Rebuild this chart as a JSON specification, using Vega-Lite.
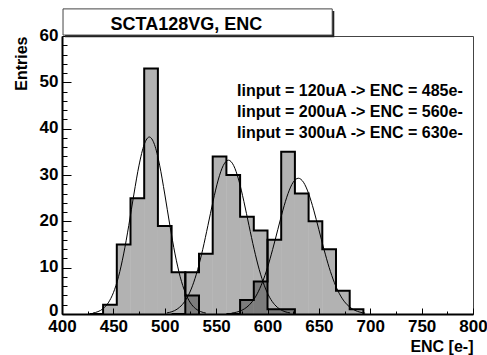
{
  "$schema": "https://vega.github.io/schema/vega-lite/v6.json",
  "width": 411,
  "height": 278,
  "autosize": "none",
  "padding": {"left": 62, "top": 36, "right": 14, "bottom": 41},
  "background": "white",
  "config": {
    "view": {"stroke": "#444", "strokeWidth": 1},
    "font": "Liberation Sans",
    "axis": {
      "labelFont": "Liberation Sans", "labelFontWeight": "bold", "labelFontSize": 17, "labelColor": "black", "labelFlush": false,
      "titleFont": "Liberation Sans", "titleFontWeight": "bold", "titleFontSize": 16, "titleColor": "black",
      "tickColor": "black", "domainColor": "black", "domainWidth": 2, "grid": false, "tickWidth": 1
    }
  },
  "datasets": {
    "hist": [
      {"s": "a", "lo": 426.667, "hi": 440, "n": 0},
      {"s": "a", "lo": 440, "hi": 453.333, "n": 2},
      {"s": "a", "lo": 453.333, "hi": 466.667, "n": 15},
      {"s": "a", "lo": 466.667, "hi": 480, "n": 25},
      {"s": "a", "lo": 480, "hi": 493.333, "n": 53},
      {"s": "a", "lo": 493.333, "hi": 506.667, "n": 19},
      {"s": "a", "lo": 506.667, "hi": 520, "n": 9},
      {"s": "a", "lo": 520, "hi": 533.333, "n": 4},
      {"s": "a", "lo": 533.333, "hi": 546.667, "n": 0},
      {"s": "b", "lo": 506.667, "hi": 520, "n": 0},
      {"s": "b", "lo": 520, "hi": 533.333, "n": 9},
      {"s": "b", "lo": 533.333, "hi": 546.667, "n": 13},
      {"s": "b", "lo": 546.667, "hi": 560, "n": 34},
      {"s": "b", "lo": 560, "hi": 573.333, "n": 30},
      {"s": "b", "lo": 573.333, "hi": 586.667, "n": 21},
      {"s": "b", "lo": 586.667, "hi": 600, "n": 18},
      {"s": "b", "lo": 600, "hi": 613.333, "n": 1},
      {"s": "b", "lo": 613.333, "hi": 626.667, "n": 1},
      {"s": "b", "lo": 626.667, "hi": 640, "n": 0},
      {"s": "c", "lo": 560, "hi": 573.333, "n": 0},
      {"s": "c", "lo": 573.333, "hi": 586.667, "n": 3},
      {"s": "c", "lo": 586.667, "hi": 600, "n": 7},
      {"s": "c", "lo": 600, "hi": 613.333, "n": 16},
      {"s": "c", "lo": 613.333, "hi": 626.667, "n": 35},
      {"s": "c", "lo": 626.667, "hi": 640, "n": 26},
      {"s": "c", "lo": 640, "hi": 653.333, "n": 20},
      {"s": "c", "lo": 653.333, "hi": 666.667, "n": 14},
      {"s": "c", "lo": 666.667, "hi": 680, "n": 5},
      {"s": "c", "lo": 680, "hi": 693.333, "n": 1},
      {"s": "c", "lo": 693.333, "hi": 706.667, "n": 0}
    ],
    "fit": [
      {"f": "a", "x": 430, "v": 0.2}, {"f": "a", "x": 435, "v": 0.51}, {"f": "a", "x": 440, "v": 1.15},
      {"f": "a", "x": 445, "v": 2.4}, {"f": "a", "x": 450, "v": 4.59}, {"f": "a", "x": 455, "v": 8.05},
      {"f": "a", "x": 460, "v": 12.96}, {"f": "a", "x": 465, "v": 19.12}, {"f": "a", "x": 470, "v": 25.89},
      {"f": "a", "x": 475, "v": 32.13}, {"f": "a", "x": 480, "v": 36.58}, {"f": "a", "x": 485, "v": 38.2},
      {"f": "a", "x": 490, "v": 36.58}, {"f": "a", "x": 495, "v": 32.13}, {"f": "a", "x": 500, "v": 25.89},
      {"f": "a", "x": 505, "v": 19.12}, {"f": "a", "x": 510, "v": 12.96}, {"f": "a", "x": 515, "v": 8.05},
      {"f": "a", "x": 520, "v": 4.59}, {"f": "a", "x": 525, "v": 2.4}, {"f": "a", "x": 530, "v": 1.15},
      {"f": "a", "x": 535, "v": 0.51}, {"f": "a", "x": 540, "v": 0.2},
      {"f": "b", "x": 502, "v": 0.23}, {"f": "b", "x": 507, "v": 0.5}, {"f": "b", "x": 512, "v": 1.04},
      {"f": "b", "x": 517, "v": 2.01}, {"f": "b", "x": 522, "v": 3.62}, {"f": "b", "x": 527, "v": 6.09},
      {"f": "b", "x": 532, "v": 9.55}, {"f": "b", "x": 537, "v": 13.97}, {"f": "b", "x": 542, "v": 19.08},
      {"f": "b", "x": 547, "v": 24.31}, {"f": "b", "x": 552, "v": 28.91}, {"f": "b", "x": 557, "v": 32.07},
      {"f": "b", "x": 562, "v": 33.2}, {"f": "b", "x": 567, "v": 32.07}, {"f": "b", "x": 572, "v": 28.91},
      {"f": "b", "x": 577, "v": 24.31}, {"f": "b", "x": 582, "v": 19.08}, {"f": "b", "x": 587, "v": 13.97},
      {"f": "b", "x": 592, "v": 9.55}, {"f": "b", "x": 597, "v": 6.09}, {"f": "b", "x": 602, "v": 3.62},
      {"f": "b", "x": 607, "v": 2.01}, {"f": "b", "x": 612, "v": 1.04}, {"f": "b", "x": 617, "v": 0.5},
      {"f": "b", "x": 622, "v": 0.23},
      {"f": "c", "x": 565, "v": 0.19}, {"f": "c", "x": 570, "v": 0.4}, {"f": "c", "x": 575, "v": 0.8},
      {"f": "c", "x": 580, "v": 1.5}, {"f": "c", "x": 585, "v": 2.63}, {"f": "c", "x": 590, "v": 4.37},
      {"f": "c", "x": 595, "v": 6.82}, {"f": "c", "x": 600, "v": 10.04}, {"f": "c", "x": 605, "v": 13.93},
      {"f": "c", "x": 610, "v": 18.2}, {"f": "c", "x": 615, "v": 22.42}, {"f": "c", "x": 620, "v": 26.01},
      {"f": "c", "x": 625, "v": 28.44}, {"f": "c", "x": 630, "v": 29.3}, {"f": "c", "x": 635, "v": 28.44},
      {"f": "c", "x": 640, "v": 26.01}, {"f": "c", "x": 645, "v": 22.42}, {"f": "c", "x": 650, "v": 18.2},
      {"f": "c", "x": 655, "v": 13.93}, {"f": "c", "x": 660, "v": 10.04}, {"f": "c", "x": 665, "v": 6.82},
      {"f": "c", "x": 670, "v": 4.37}, {"f": "c", "x": 675, "v": 2.63}, {"f": "c", "x": 680, "v": 1.5},
      {"f": "c", "x": 685, "v": 0.8}, {"f": "c", "x": 690, "v": 0.4}, {"f": "c", "x": 695, "v": 0.19}
    ]
  },
  "layer": [
    {
      "data": {"name": "hist"},
      "mark": {"type": "rect", "fill": "black", "fillOpacity": 0.3, "strokeWidth": 0},
      "encoding": {
        "x": {"field": "lo", "type": "quantitative", "scale": {"domain": [400, 800], "nice": false, "zero": false},
          "axis": {"orient": "bottom", "values": [400, 450, 500, 550, 600, 650, 700, 750, 800], "tickSize": -6, "labelPadding": 10,
            "labelFontWeight": "bold", "labelFontSize": 17, "labelFont": "Liberation Sans", "labelFlush": false, "title": "ENC [e-]",
            "titleAnchor": "end", "titleAlign": "right", "titleX": 411, "titleY": 37, "titleBaseline": "alphabetic"}},
        "x2": {"field": "hi"},
        "y": {"field": "n", "type": "quantitative", "scale": {"domain": [0, 60], "nice": false},
          "axis": {"orient": "left", "values": [0, 10, 20, 30, 40, 50, 60], "tickSize": -9, "labelPadding": 13,
            "labelOffset": {"condition": {"test": "datum.value == 0", "value": -4}, "value": -1},
            "labelFontWeight": "bold", "labelFontSize": 17, "labelFont": "Liberation Sans", "labelFlush": false, "title": "Entries",
            "titleAnchor": "end", "titleAlign": "right", "titleAngle": -90, "titleX": -36, "titleY": 0, "titleBaseline": "alphabetic"}},
        "y2": {"datum": 0}
      }
    },
    {
      "data": {"name": "hist"},
      "mark": {"type": "line", "interpolate": "step-after", "stroke": "black", "strokeWidth": 2},
      "encoding": {
        "x": {"field": "lo", "type": "quantitative",
          "axis": {"orient": "bottom", "values": [425, 475, 525, 575, 625, 675, 725, 775], "tickSize": -3, "labels": false, "domain": false, "title": null}},
        "y": {"field": "n", "type": "quantitative",
          "axis": {"orient": "left", "values": [2, 4, 6, 8, 12, 14, 16, 18, 22, 24, 26, 28, 32, 34, 36, 38, 42, 44, 46, 48, 52, 54, 56, 58], "tickSize": -5, "labels": false, "domain": false, "title": null}},
        "detail": {"field": "s"}
      }
    },
    {
      "data": {"name": "fit"},
      "mark": {"type": "line", "interpolate": "monotone", "stroke": "black", "strokeWidth": 1},
      "encoding": {
        "x": {"field": "x", "type": "quantitative", "axis": null},
        "y": {"field": "v", "type": "quantitative", "axis": null},
        "detail": {"field": "f"}
      }
    },
    {
      "data": {"values": [{}]},
      "mark": {"type": "rect", "fill": "#222", "clip": false},
      "encoding": {
        "x": {"datum": 403, "type": "quantitative", "axis": null},
        "x2": {"datum": 665},
        "y": {"datum": 59.75, "type": "quantitative", "axis": null},
        "y2": {"datum": 65.4}
      }
    },
    {
      "data": {"values": [{}]},
      "mark": {"type": "rect", "fill": "white", "stroke": "#444", "strokeWidth": 1, "clip": false},
      "encoding": {
        "x": {"datum": 401, "type": "quantitative", "axis": null},
        "x2": {"datum": 663},
        "y": {"datum": 60.2, "type": "quantitative", "axis": null},
        "y2": {"datum": 65.85}
      }
    },
    {
      "data": {"values": [{}]},
      "mark": {"type": "text", "text": "SCTA128VG, ENC", "font": "Liberation Sans", "fontWeight": "bold", "fontSize": 18, "align": "center", "baseline": "alphabetic", "color": "black", "clip": false},
      "encoding": {
        "x": {"datum": 521, "type": "quantitative", "axis": null},
        "y": {"datum": 61.3, "type": "quantitative", "axis": null}
      }
    },
    {
      "data": {"values": [{}]},
      "mark": {"type": "text", "text": ["Iinput = 120uA -> ENC = 485e-", "Iinput = 200uA -> ENC = 560e-", "Iinput = 300uA -> ENC = 630e-"], "lineHeight": 21, "font": "Liberation Sans", "fontWeight": "bold", "fontSize": 16, "align": "right", "baseline": "alphabetic", "color": "black"},
      "encoding": {
        "x": {"datum": 790, "type": "quantitative", "axis": null},
        "y": {"datum": 47.0, "type": "quantitative", "axis": null}
      }
    }
  ],
  "resolve": {"axis": {"x": "independent", "y": "independent"}}
}
